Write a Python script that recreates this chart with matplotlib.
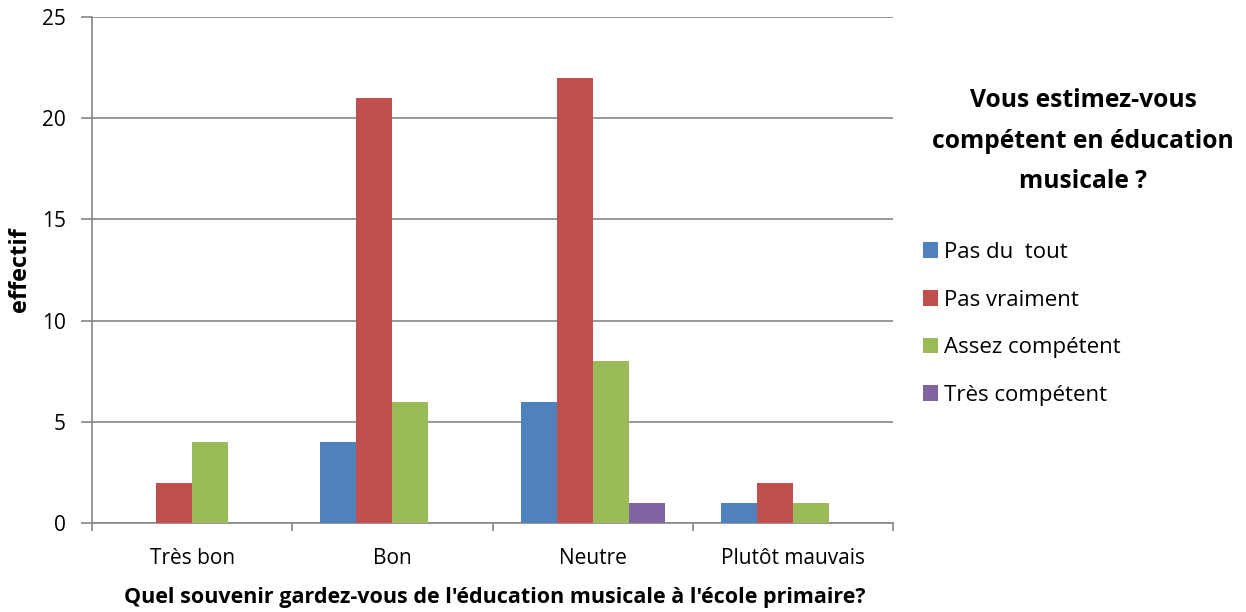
import matplotlib
matplotlib.use("Agg")
import matplotlib.pyplot as plt
import numpy as np

categories = ["Très bon", "Bon", "Neutre", "Plutôt mauvais"]
series_names = ["Pas du  tout", "Pas vraiment", "Assez compétent", "Très compétent"]
pas_du_tout = [0, 4, 6, 1]
pas_vraiment = [2, 21, 22, 2]
assez_competent = [4, 6, 8, 1]
tres_competent = [0, 0, 1, 0]
yticks = [0, 5, 10, 15, 20, 25]

colors = ["#4F81BD", "#C0504D", "#9BBB59", "#8064A2"]
grid_c = "#868686"

plt.rcParams['font.family'] = ['Open Sans', 'DejaVu Sans']

fig = plt.figure(figsize=(12.46, 6.12), dpi=100)
ax = fig.add_axes([92/1246, 1-523/612, (893-92)/1246, (523-17)/612])

w = 0.18
centers = np.arange(len(categories)) + 0.5
data = [pas_du_tout, pas_vraiment, assez_competent, tres_competent]
handles = []
for j, (vals, name, c) in enumerate(zip(data, series_names, colors)):
    b = ax.bar(centers + (j - 1.5) * w, vals, width=w, color=c, label=name, zorder=3)
    handles.append(b)

ax.set_xlim(0, len(categories))
ax.set_ylim(0, 25)
ax.set_yticks(yticks)
ax.yaxis.grid(True, color=grid_c, lw=1.2, zorder=0)
ax.set_xticks(np.arange(len(categories) + 1))
ax.set_xticklabels([])
ax.set_xticks(centers, minor=True)
ax.set_xticklabels(categories, minor=True, fontsize=15)
ax.tick_params(axis='x', which='minor', length=0, pad=18)
ax.tick_params(axis='x', which='major', length=6, color=grid_c, width=1.2)
ax.tick_params(axis='y', length=8, color=grid_c, width=1.2, labelsize=15, pad=11)
for s in ['top', 'right']:
    ax.spines[s].set_visible(False)
for s in ['left', 'bottom']:
    ax.spines[s].set_color(grid_c)
    ax.spines[s].set_linewidth(1.2)

fig.text(20/1246, 1-270/612, "effectif", rotation=90, ha='center', va='center',
         fontsize=17, fontweight='bold')
fig.text(495/1246, 1-598/612,
         "Quel souvenir gardez-vous de l'éducation musicale à l'école primaire?",
         ha='center', va='center', fontsize=15.5, fontweight='bold')

fig.text(1083/1246, 1-141/612, "Vous estimez-vous\ncompétent en éducation\nmusicale ?",
         ha='center', va='center', fontsize=17.7, fontweight='bold', linespacing=1.8)

fig.legend(handles=handles, labels=series_names, loc='upper left',
           bbox_to_anchor=(914/1246, 1-233/612), frameon=False, fontsize=16,
           handlelength=0.7, handleheight=0.7, handletextpad=0.25, labelspacing=1.2,
           borderaxespad=0)

fig.savefig("out.png", dpi=100)
